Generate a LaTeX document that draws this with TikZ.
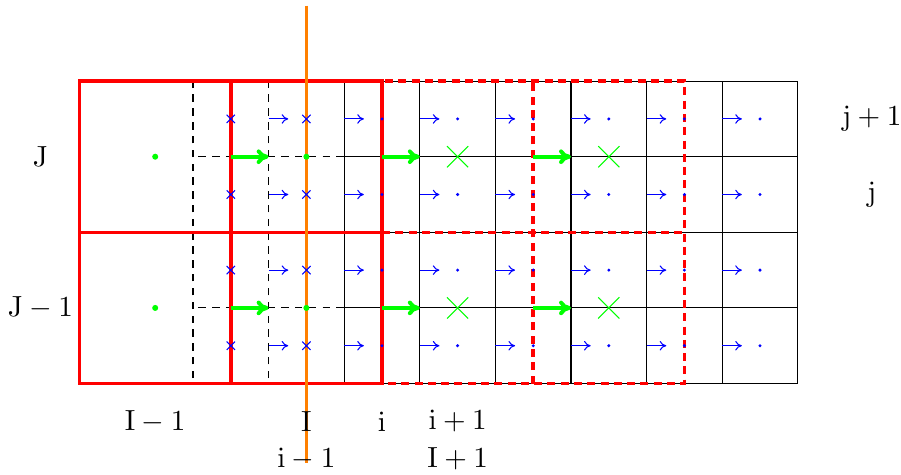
\documentclass[tikz,border=0pt]{standalone}
\usetikzlibrary{arrows.meta}
\definecolor{myred}{RGB}{255,0,0}
\definecolor{mygreen}{RGB}{0,255,0}
\definecolor{myblue}{RGB}{0,0,255}
\definecolor{myorange}{RGB}{255,128,0}
\tikzset{
  fine/.style={black, line width=0.4pt},
  finedash/.style={black, line width=0.4pt, dash pattern=on 2.8pt off 2.4pt, dash phase=-2pt},
  coarse/.style={myred, line width=1.3pt},
  coarsedash/.style={myred, line width=1.3pt, dash pattern=on 3pt off 2pt},
  flux/.style={myblue, line width=0.4pt, -{To[length=2.5pt,width=3.6pt]}},
  cflux/.style={mygreen, line width=1.5pt, -{To[length=4.5pt,width=5.5pt]}},
  lab/.style={font=\fontsize{11}{13}\selectfont, inner sep=0pt},
}
\begin{document}
\begin{tikzpicture}[x=1cm,y=1cm]
\useasboundingbox (-2.553,-1.205) rectangle (9.365,5.073);
% fine grid
\draw[finedash] (0,0) grid (2,4);
\draw[fine] (2,0) grid (8,4);
% coarse grid, solid part
\draw[coarse] (-1.5,0) rectangle (2.5,4);
\draw[coarse] (0.5,0) -- (0.5,4);
\draw[coarse] (-1.5,2) -- (2.5,2);
% coarse grid, dashed part
\draw[coarsedash] (2.5,0) rectangle (6.5,4);
\draw[coarsedash] (4.5,0) -- (4.5,4);
\draw[coarsedash] (2.5,2) -- (6.5,2);
% orange interface line
\coordinate (otop) at (1.5,5.0);
\coordinate (obot) at (1.5,-1.05);
\draw[myorange, line width=1.1pt] (otop) -- (obot);
% blue fine fluxes
\foreach \k in {1,...,7}
  \foreach \y in {0.5,1.5,2.5,3.5}
    \draw[flux] (\k,\y) -- (\k+0.26,\y);
% blue crosses
\foreach \x in {0.5,1.5}
  \foreach \y in {0.5,1.5,2.5,3.5}
    \draw[myblue, line width=0.4pt] (\x-0.055,\y-0.055) -- (\x+0.055,\y+0.055)
      (\x-0.055,\y+0.055) -- (\x+0.055,\y-0.055);
% blue dots
\foreach \x in {2.5,3.5,...,7.5}
  \foreach \y in {0.5,1.5,2.5,3.5}
    \fill[myblue] (\x,\y) circle (0.022);
% green coarse fluxes
\foreach \x in {0.5,2.5,4.5}
  \foreach \y in {1,3}
    \draw[cflux] (\x,\y) -- (\x+0.5,\y);
% green dots
\foreach \x in {-0.5,1.5}
  \foreach \y in {1,3}
    \fill[mygreen] (\x,\y) circle (0.04);
% green crosses
\foreach \x in {3.5,5.5}
  \foreach \y in {1,3}
    \draw[mygreen, line width=0.4pt] (\x-0.14,\y-0.14) -- (\x+0.14,\y+0.14)
      (\x-0.14,\y+0.14) -- (\x+0.14,\y-0.14);
% labels
\node[lab] (lJ) at (-2.02,3) {$\mathrm{J}$};
\node[lab] (lJm) at (-2.02,1) {$\mathrm{J}-1$};
\node[lab] (ljp) at (8.98,3.5) {$\mathrm{j}+1$};
\node[lab] (lj) at (8.98,2.5) {$\mathrm{j}$};
\node[lab] (lIm) at (-0.5,-0.5) {$\mathrm{I}-1$};
\node[lab] (lI) at (1.5,-0.5) {$\mathrm{I}$};
\node[lab] (li) at (2.5,-0.5) {$\mathrm{i}$};
\node[lab] (lip) at (3.5,-0.5) {$\mathrm{i}+1$};
\node[lab] (lim) at (1.5,-1.0) {$\mathrm{i}-1$};
\node[lab] (lIp) at (3.5,-1.0) {$\mathrm{I}+1$};
\end{tikzpicture}
\end{document}
